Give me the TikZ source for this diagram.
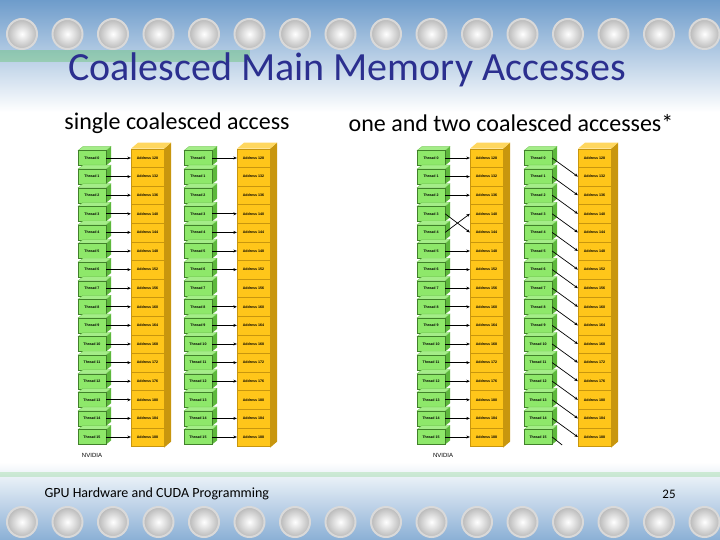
\documentclass[tikz,border=0pt]{standalone}
\usepackage{fontspec}
\setmainfont{Carlito}
\newfontfamily\boxfont{Liberation Sans}
\usetikzlibrary{arrows.meta}
\definecolor{thrG}{HTML}{8EE86A}
\definecolor{thrD}{HTML}{5DB83C}
\definecolor{adrY}{HTML}{FFC61A}
\definecolor{adrD}{HTML}{C8960E}
\definecolor{titleblue}{HTML}{2B2F8F}
\definecolor{boardblue}{HTML}{6E9CCB}
\tikzset{
  thr/.style={draw=thrD!70!black,line width=0.3pt,fill=thrG,minimum width=28pt,minimum height=15pt,inner sep=0pt,font=\boxfont\fontsize{3.6}{4}\selectfont\bfseries},
  adr/.style={draw=adrD,line width=0.3pt,fill=adrY,minimum width=33pt,minimum height=18.6pt,inner sep=0pt,font=\boxfont\fontsize{3.6}{4}\selectfont\bfseries},
  conn/.style={line width=0.7pt,-{Stealth[length=3.5pt,width=3pt]}},
  pin/.style={circle,minimum size=30pt,inner sep=0pt,draw=gray!30,line width=2pt,shading=radial,inner color=white,outer color=gray!55},
}
\newcommand{\mkcol}[3]{% #1 name prefix, #2 thread x, #3 address x
  \foreach \i in {0,...,15}{
    \pgfmathsetmacro\yc{158+18.6*\i}
    \fill[thrD] (#2+28,\yc-7.5) -- ++(5,-4) -- ++(0,15) -- ++(-5,4) -- cycle;
    \fill[thrG!80!white,draw=thrD,line width=0.2pt] (#2,\yc-7.5) -- ++(5,-4) -- ++(28,0) -- ++(-5,4) -- cycle;
    \node[thr] (t#1\i) at (#2+14,\yc) {Thread \i};
  }
  \fill[adrD] (#3+33,148.7) -- ++(7,-6) -- (#3+40,441.7) -- (#3+33,447.7) -- cycle;
  \fill[adrY!70!white] (#3,148.7) -- ++(7,-6) -- ++(33,0) -- ++(-7,6) -- cycle;
  \foreach \i in {0,...,15}{
    \pgfmathsetmacro\yc{158+18.6*\i}
    \pgfmathtruncatemacro\ad{128+4*\i}
    \node[adr] (a#1\i) at (#3+16.5,\yc) {Address \ad};
  }
}
\begin{document}
\begin{tikzpicture}[x=1pt,y=-1pt]
\useasboundingbox (0,0) rectangle (720,540);
% background
\fill[white] (0,0) rectangle (720,540);
\shade[top color=boardblue,bottom color=white] (0,0) rectangle (720,112);
\shade[top color=white,bottom color=boardblue!80] (0,462) rectangle (720,540);
\fill[green!50!gray,opacity=0.3] (0,50) rectangle (250,62);
\fill[green!50!gray,opacity=0.2] (0,472) rectangle (720,477);
\foreach \k in {0,...,15}{
  \node[pin] (p\k) at (22+45.5*\k,34) {};
  \node[pin] (q\k) at (22+45.5*\k,522) {};
}
% texts
\node[font=\fontsize{40}{44}\selectfont,text=titleblue] (title) at (347,70) {Coalesced Main Memory Accesses};
\node[font=\fontsize{24}{28}\selectfont] (s1) at (177,123) {single coalesced access};
\node[font=\fontsize{24}{28}\selectfont] (s2) at (511,123) {one and two coalesced accesses*};
\node[font=\fontsize{14}{16}\selectfont,anchor=west] (foot) at (41,494) {GPU Hardware and CUDA Programming};
\node[font=\fontsize{13}{15}\selectfont] (pg) at (669,494) {25};
\node[font=\boxfont\fontsize{6}{7}\selectfont] (n1) at (92,455) {NVIDIA};
\node[font=\boxfont\fontsize{6}{7}\selectfont] (n2) at (443,455) {NVIDIA};
% columns
\mkcol{A}{78}{131}
\mkcol{B}{184}{237}
\mkcol{C}{417}{470}
\mkcol{D}{524}{578}
% connectors
\foreach \i in {0,...,15}{ \draw[conn] (tA\i.east) -- (aA\i.west); }
\foreach \i in {0,3,4,5,6,8,9,10,11,12,14,15}{ \draw[conn] (tB\i.east) -- (aB\i.west); }
\foreach \i in {0,1,2,5,6,7,8,9,10,11,12,13,14,15}{ \draw[conn] (tC\i.east) -- (aC\i.west); }
\draw[conn] (tC3.east) -- (aC4.west);
\draw[conn] (tC4.east) -- (aC3.west);
\foreach \i [evaluate=\i as \j using int(\i+1)] in {0,...,14}{ \draw[conn] (tD\i.east) -- (aD\j.west); }
\coordinate (dEnd) at ([shift={(10,8)}]tD15.east);
\draw[line width=0.7pt] (tD15.east) -- (dEnd);
\end{tikzpicture}
\end{document}
